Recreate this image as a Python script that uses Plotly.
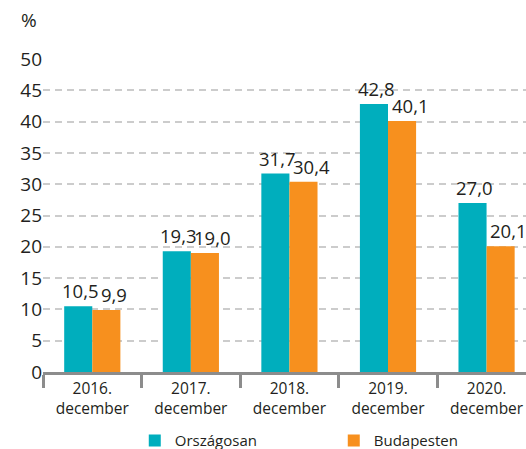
import plotly.graph_objs as go

categories = ["2016.<br>december", "2017.<br>december", "2018.<br>december",
              "2019.<br>december", "2020.<br>december"]
orszagosan = [10.5, 19.3, 31.7, 42.8, 27.0]
budapesten = [9.9, 19.0, 30.4, 40.1, 20.1]
y_ticks = [0, 5, 10, 15, 20, 25, 30, 35, 40, 45, 50]


def hu(v):
    return f"{v:.1f}".replace(".", ",")


font = "Open Sans, Noto Sans, sans-serif"
text_color = "#231F20"
teal = "#00AEBD"
orange = "#F7901E"

fig = go.Figure()
fig.add_trace(go.Bar(x=categories, y=orszagosan, name="Országosan",
                     marker_color=teal, marker_line_width=0,
                     legend="legend", showlegend=True))
fig.add_trace(go.Bar(x=categories, y=budapesten, name="Budapesten",
                     marker_color=orange, marker_line_width=0,
                     legend="legend2", showlegend=True))

# value labels, nudged apart so neighbouring labels don't collide
labels = []
for series, shift in ((orszagosan, -12), (budapesten, 22)):
    for cat, v in zip(categories, series):
        labels.append(dict(x=cat, y=v, text=hu(v), xshift=shift, yshift=1,
                           xanchor="center", yanchor="bottom", showarrow=False,
                           font=dict(size=18.5, color=text_color)))
labels.append(dict(text="%", x=-0.03, y=1.125, xref="paper", yref="paper",
                   xanchor="center", yanchor="middle", showarrow=False,
                   font=dict(size=19, color=text_color)))

# legends sit at the very bottom edge, partly cut off like in the source
legend_style = dict(orientation="h", y=-0.22, yanchor="middle",
                    font=dict(size=15, color=text_color), itemwidth=30,
                    bgcolor="rgba(0,0,0,0)")

fig.update_layout(
    width=526, height=449,
    margin=dict(l=43, r=0, t=59, b=77, autoexpand=False),
    plot_bgcolor="white", paper_bgcolor="white",
    font=dict(family=font, color=text_color),
    showlegend=True,
    barmode="group", bargap=0.43, bargroupgap=0,
    xaxis=dict(range=[-0.5, 4.4], showline=True, linecolor="#8C8C8C", linewidth=3,
               ticks="outside", tickson="boundaries", ticklen=13, tickwidth=3,
               tickcolor="#8C8C8C", tickfont=dict(size=15.5, color=text_color),
               showgrid=False),
    yaxis=dict(range=[0, 50], tickvals=y_ticks, showgrid=True, gridcolor="#CCCCCC",
               griddash="7px,5px", gridwidth=1.5, zeroline=False, showline=False,
               tickfont=dict(size=19, color=text_color), ticks="", ticklen=0),
    legend=dict(x=0.19, xanchor="left", **legend_style),
    legend2=dict(x=0.602, xanchor="left", **legend_style),
    annotations=labels,
)

fig.write_html("out.html", config={"displayModeBar": False},
               post_script="document.body.style.margin='0';")
